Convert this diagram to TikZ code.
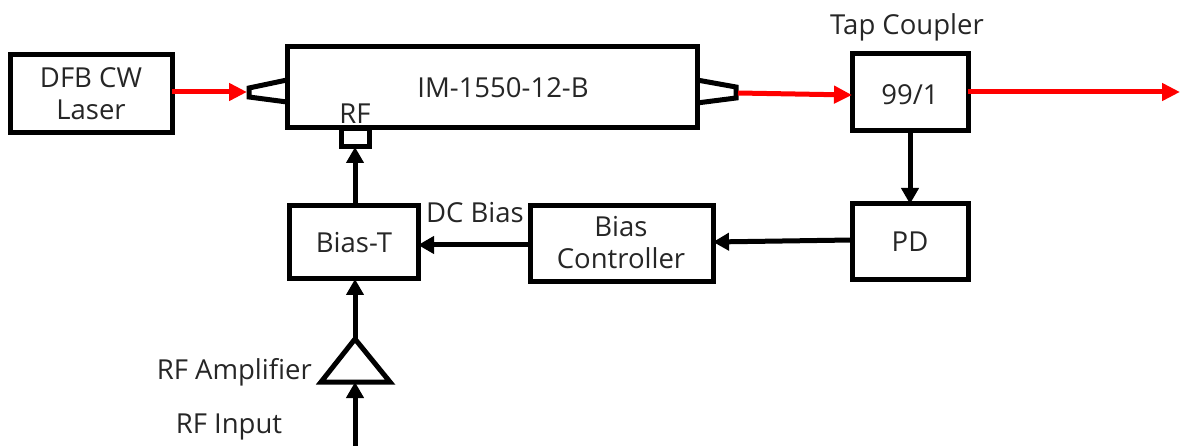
\documentclass[tikz,border=0pt]{standalone}
\usepackage{fontspec}
\setmainfont{Open Sans}
\usetikzlibrary{arrows.meta}
\definecolor{laserred}{RGB}{255,0,0}
\tikzset{
  blk/.style={draw=black, line width=5pt, fill=white},
  lbl/.style={font=\fontsize{27.5}{32}\selectfont, text=black!85, inner sep=0pt},
  sig/.style={line width=5pt, -{Triangle[length=16pt,width=17pt]}},
  opt/.style={draw=laserred, line width=5pt, -{Triangle[length=18pt,width=17pt]}},
}
\begin{document}
\begin{tikzpicture}[x=1pt,y=-1pt]
\useasboundingbox (0,0) rectangle (1181,446);
% tapers (drawn under the modulator)
\draw[black, line width=5pt, fill=white] (287,80) -- (249,88) -- (249,97) -- (287,102);
\draw[black, line width=5pt, fill=white] (697,80) -- (736,87) -- (736,98) -- (697,103);
\coordinate (tapIn) at (247,92);
\coordinate (tapOut) at (738,93);
% boxes
\draw[blk] (10,55) rectangle (172,133);
\node[lbl, align=center] (dfb) at (91,94) {DFB CW\\Laser};
\coordinate (dfbE) at (172,92);
\draw[blk] (287,47) rectangle (697,128);
\node[lbl] (im) at (503,88) {IM-1550-12-B};
\node[lbl] (rflbl) at (355,114) {RF};
% RF connector
\draw[blk] (341,129) rectangle (369,147);
\coordinate (rfc) at (355,147);
% coupler
\draw[blk] (852,54) rectangle (968,131);
\node[lbl] (cpl) at (910,95) {99/1};
\node[lbl] (tap) at (907,27) {Tap Coupler};
\coordinate (cplW) at (852,95);
\coordinate (cplE) at (968,92);
\coordinate (cplS) at (910,131);
\coordinate (outEnd) at (1180,92);
% PD
\draw[blk] (852,204) rectangle (968,280);
\node[lbl] (pd) at (910,242) {PD};
\coordinate (pdN) at (910,204);
\coordinate (pdW) at (852,240);
% Bias controller
\draw[blk] (530,206) rectangle (713,282);
\node[lbl, align=center] (bc) at (621,243) {Bias\\Controller};
\coordinate (bcE) at (713,242);
\coordinate (bcW) at (530,245);
% Bias-T
\draw[blk] (289,206) rectangle (418,279);
\node[lbl] (bt) at (354,243) {Bias-T};
\coordinate (btE) at (418,245);
\coordinate (btN) at (355,206);
\coordinate (btS) at (355,279);
\node[lbl] (dcb) at (475,213) {DC Bias};
% amplifier
\draw[black, line width=5pt, line join=miter, fill=white] (355,339) -- (390,382) -- (321,382) -- cycle;
\coordinate (ampT) at (355,339);
\coordinate (ampB) at (355,382);
\coordinate (rfIn) at (355,446);
\node[lbl, anchor=east] (amplbl) at (312,372) {RF Amplifier};
\node[lbl] (inlbl) at (229,427) {RF Input};
% connectors
\draw[opt] (dfbE) -- (tapIn);
\draw[opt] (tapOut) -- (cplW);
\draw[opt] (cplE) -- (outEnd);
\draw[sig] (cplS) -- (pdN);
\draw[sig] (pdW) -- (bcE);
\draw[sig] (bcW) -- (btE);
\draw[sig] (btN) -- (rfc);
\draw[sig] (ampT) -- (btS);
\draw[sig] (rfIn) -- (ampB);
\end{tikzpicture}
\end{document}
